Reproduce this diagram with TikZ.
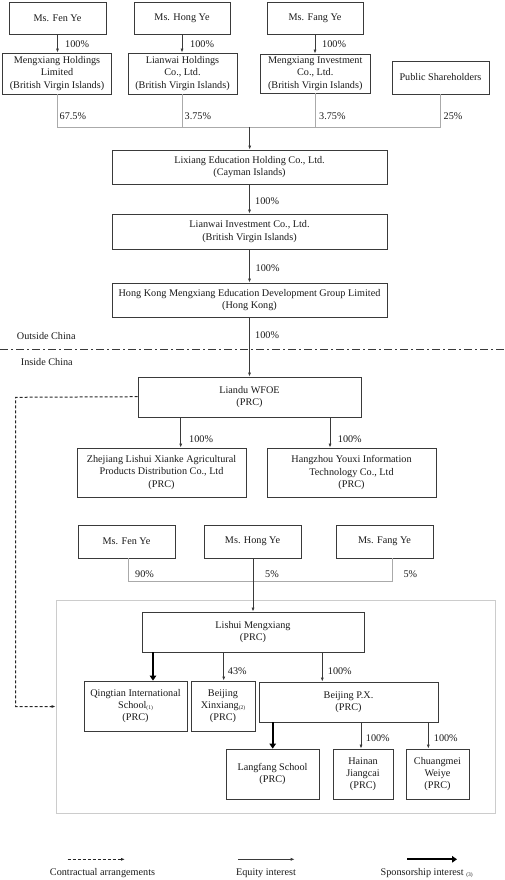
\documentclass[tikz,border=0pt]{standalone}
\usepackage{fontspec}
\setmainfont{Liberation Serif}
\usetikzlibrary{arrows.meta}
\definecolor{bord}{HTML}{3A3A3A}
\definecolor{lgray}{HTML}{AAAAAA}
\definecolor{cgray}{HTML}{CCCCCC}
\definecolor{txt}{HTML}{1A1A1A}
\newcommand{\nsub}[1]{\raisebox{-1pt}{\fontsize{5.5}{6}\selectfont(#1)}}
\tikzset{
  box/.style={draw=bord, line width=0.8pt, align=center, inner sep=1pt, text=txt,
    font=\fontsize{10.2}{12.3}\selectfont},
  lbl/.style={anchor=west, inner sep=0pt, text=txt, font=\fontsize{10.2}{12.3}\selectfont},
  eq/.style={draw=bord, line width=0.7pt, -{Latex[length=4pt,width=3pt]}},
  sp/.style={draw=black, line width=2.2pt, -{Triangle[length=5pt,width=6.5pt]}},
  ctr/.style={draw=black!85, line width=1pt, dash pattern=on 3pt off 2pt, -{Latex[length=4pt,width=3pt]}},
  glink/.style={draw=lgray, line width=0.8pt},
}
\begin{document}
\begin{tikzpicture}[x=1pt,y=-1pt]
\useasboundingbox (0,0) rectangle (505,880);
% container
\node[draw=cgray, line width=0.8pt, minimum width=439pt, minimum height=213pt, inner sep=0pt] (grp) at (275.5,706.5) {};
% top persons
\node[box, minimum width=97pt, minimum height=32pt] (fen1) at (57.5,18) {Ms. Fen Ye};
\node[box, minimum width=96pt, minimum height=32pt] (hong1) at (182,18) {Ms. Hong Ye};
\node[box, minimum width=96pt, minimum height=32pt] (fang1) at (315,18) {Ms. Fang Ye};
% holdings
\node[box, minimum width=109pt, minimum height=41pt] (mhl) at (57,73.5) {Mengxiang Holdings\\Limited\\(British Virgin Islands)};
\node[box, minimum width=109pt, minimum height=41pt] (lhc) at (182.5,73.5) {Lianwai Holdings\\Co., Ltd.\\(British Virgin Islands)};
\node[box, minimum width=109.5pt, minimum height=39pt] (mic) at (315.25,73.5) {Mengxiang Investment\\Co., Ltd.\\(British Virgin Islands)};
\node[box, minimum width=97pt, minimum height=33pt] (pub) at (440.5,77.5) {Public Shareholders};
% chain
\node[box, minimum width=275pt, minimum height=34pt] (lix) at (249.5,167) {Lixiang Education Holding Co., Ltd.\\(Cayman Islands)};
\node[box, minimum width=275pt, minimum height=35pt] (lwi) at (249.5,231.5) {Lianwai Investment Co., Ltd.\\(British Virgin Islands)};
\node[box, minimum width=275pt, minimum height=34pt] (hk) at (249.5,300) {Hong Kong Mengxiang Education Development Group Limited\\(Hong Kong)};
\node[box, minimum width=223pt, minimum height=40pt] (liandu) at (249.5,397) {Liandu WFOE\\(PRC)};
\node[box, minimum width=169pt, minimum height=49pt] (zhej) at (161.5,472.5) {Zhejiang Lishui Xianke Agricultural\\Products Distribution Co., Ltd\\(PRC)};
\node[box, minimum width=169pt, minimum height=49pt] (hang) at (351.5,472.5) {Hangzhou Youxi Information\\Technology Co., Ltd\\(PRC)};
% second persons
\node[box, minimum width=97pt, minimum height=33pt] (fen2) at (126.5,541.5) {Ms. Fen Ye};
\node[box, minimum width=97pt, minimum height=33pt] (hong2) at (252.5,541.5) {Ms. Hong Ye};
\node[box, minimum width=97pt, minimum height=33pt] (fang2) at (384.5,541.5) {Ms. Fang Ye};
% inside group
\node[box, minimum width=222pt, minimum height=40pt] (lishui) at (253,632) {Lishui Mengxiang\\(PRC)};
\node[box, minimum width=103pt, minimum height=50pt] (qing) at (135.5,706) {Qingtian International\\School\nsub{1}\\(PRC)};
\node[box, minimum width=64pt, minimum height=50pt] (bx) at (223,706) {Beijing\\Xinxiang\nsub{2}\\(PRC)};
\node[box, minimum width=179pt, minimum height=40pt] (px) at (348.5,702) {Beijing P.X.\\(PRC)};
\node[box, minimum width=93pt, minimum height=50pt] (lang) at (272.5,774) {Langfang School\\(PRC)};
\node[box, minimum width=60pt, minimum height=50pt] (hain) at (363,774) {Hainan\\Jiangcai\\(PRC)};
\node[box, minimum width=63pt, minimum height=50pt] (chm) at (437.5,774) {Chuangmei\\Weiye\\(PRC)};

% top arrows
\draw[eq] (fen1.south) -- (fen1.south |- mhl.north);
\draw[eq] (hong1.south) -- (hong1.south |- lhc.north);
\draw[eq] (fang1.south) -- (fang1.south |- mic.north);
\node[lbl] (l1) at (65,43.7) {100\%};
\node[lbl] (l2) at (190,43.7) {100\%};
\node[lbl] (l3) at (322,43.7) {100\%};
% bus 1
\coordinate (bus) at (249.7,127);
\draw[glink] ([xshift=0.7pt]mhl.south) -- ([xshift=0.7pt]mhl.south |- bus) -- (pub.south |- bus) -- (pub.south);
\draw[glink] (lhc.south) -- (lhc.south |- bus);
\draw[glink] (mic.south) -- (mic.south |- bus);
\draw[eq] (bus) -- (bus |- lix.north);
\node[lbl] (p1) at (59.5,116.3) {67.5\%};
\node[lbl] (p2) at (184.5,116.3) {3.75\%};
\node[lbl] (p3) at (319,116.3) {3.75\%};
\node[lbl] (p4) at (443.5,116.3) {25\%};
% chain arrows
\draw[eq] (lix.south) -- (lwi.north);
\node[lbl] (c1) at (255,201) {100\%};
\draw[eq] (lwi.south) -- (hk.north);
\node[lbl] (c2) at (255.5,267.7) {100\%};
\draw[eq] (hk.south) -- (liandu.north);
\node[lbl] (c3) at (255,335) {100\%};
% border line
\coordinate (dl) at (0,349.3);
\coordinate (dr) at (505,349.3);
\draw[draw=bord, line width=0.7pt, dash pattern=on 8pt off 3pt on 2pt off 3pt] (dl) -- (dr);
\node[lbl] (oc) at (16.7,336) {Outside China};
\node[lbl] (ic) at (20.7,362.3) {Inside China};
% liandu subs
\draw[eq] ([xshift=-68.8pt]liandu.south) -- ([xshift=-68.8pt]liandu.south |- zhej.north);
\draw[eq] ([xshift=80.5pt]liandu.south) -- ([xshift=80.5pt]liandu.south |- hang.north);
\node[lbl] (c4) at (189,439.3) {100\%};
\node[lbl] (c5) at (337.7,439.3) {100\%};
% contractual
\coordinate (k1) at (15.7,397.3);
\draw[ctr] ([yshift=0.3pt]liandu.west) -- (k1) |- (grp.west);
% bus 2
\coordinate (bus2) at (253,581.7);
\draw[glink] ([xshift=1.5pt]fen2.south) -- ([xshift=1.5pt]fen2.south |- bus2) -- ([xshift=7.5pt]fang2.south |- bus2) -- ([xshift=7.5pt]fang2.south);
\draw[eq] ([xshift=0.5pt]hong2.south) -- ([xshift=0.5pt]hong2.south |- lishui.north);
\node[lbl] (q1) at (135,574.3) {90\%};
\node[lbl] (q2) at (265,574.3) {5\%};
\node[lbl] (q3) at (403.3,574.3) {5\%};
% lishui
\draw[sp] ([xshift=-100pt]lishui.south) -- ([xshift=-100pt]lishui.south |- qing.north);
\draw[eq] ([xshift=-29.3pt]lishui.south) -- ([xshift=-29.3pt]lishui.south |- bx.north);
\draw[eq] ([xshift=69.3pt]lishui.south) -- ([xshift=69.3pt]lishui.south |- px.north);
\node[lbl] (r1) at (227.7,670.7) {43\%};
\node[lbl] (r2) at (327.7,670.7) {100\%};
% px
\draw[sp] ([xshift=-75.8pt]px.south) -- ([xshift=-75.8pt]px.south |- lang.north);
\draw[eq] ([xshift=12.5pt]px.south) -- ([xshift=12.5pt]px.south |- hain.north);
\draw[eq] ([xshift=79.8pt]px.south) -- ([xshift=79.8pt]px.south |- chm.north);
\node[lbl] (r3) at (365.7,738) {100\%};
\node[lbl] (r4) at (433.7,738) {100\%};
% legend
\coordinate (la1) at (67.7,859.3); \coordinate (la2) at (125,859.3);
\coordinate (lb1) at (238,859.3); \coordinate (lb2) at (294.7,859.3);
\coordinate (lc1) at (407,859.3); \coordinate (lc2) at (457,859.3);
\draw[ctr] (la1) -- (la2);
\draw[eq] (lb1) -- (lb2);
\draw[sp] (lc1) -- (lc2);
\node[inner sep=0pt, text=txt, font=\fontsize{10.2}{12.3}\selectfont] (t1) at (102.5,873.3) {Contractual arrangements};
\node[inner sep=0pt, text=txt, font=\fontsize{10.2}{12.3}\selectfont] (t2) at (266,873.3) {Equity interest};
\node[inner sep=0pt, text=txt, font=\fontsize{10.2}{12.3}\selectfont] (t3) at (426.7,873.3) {Sponsorship interest \nsub{3}};
\end{tikzpicture}
\end{document}
